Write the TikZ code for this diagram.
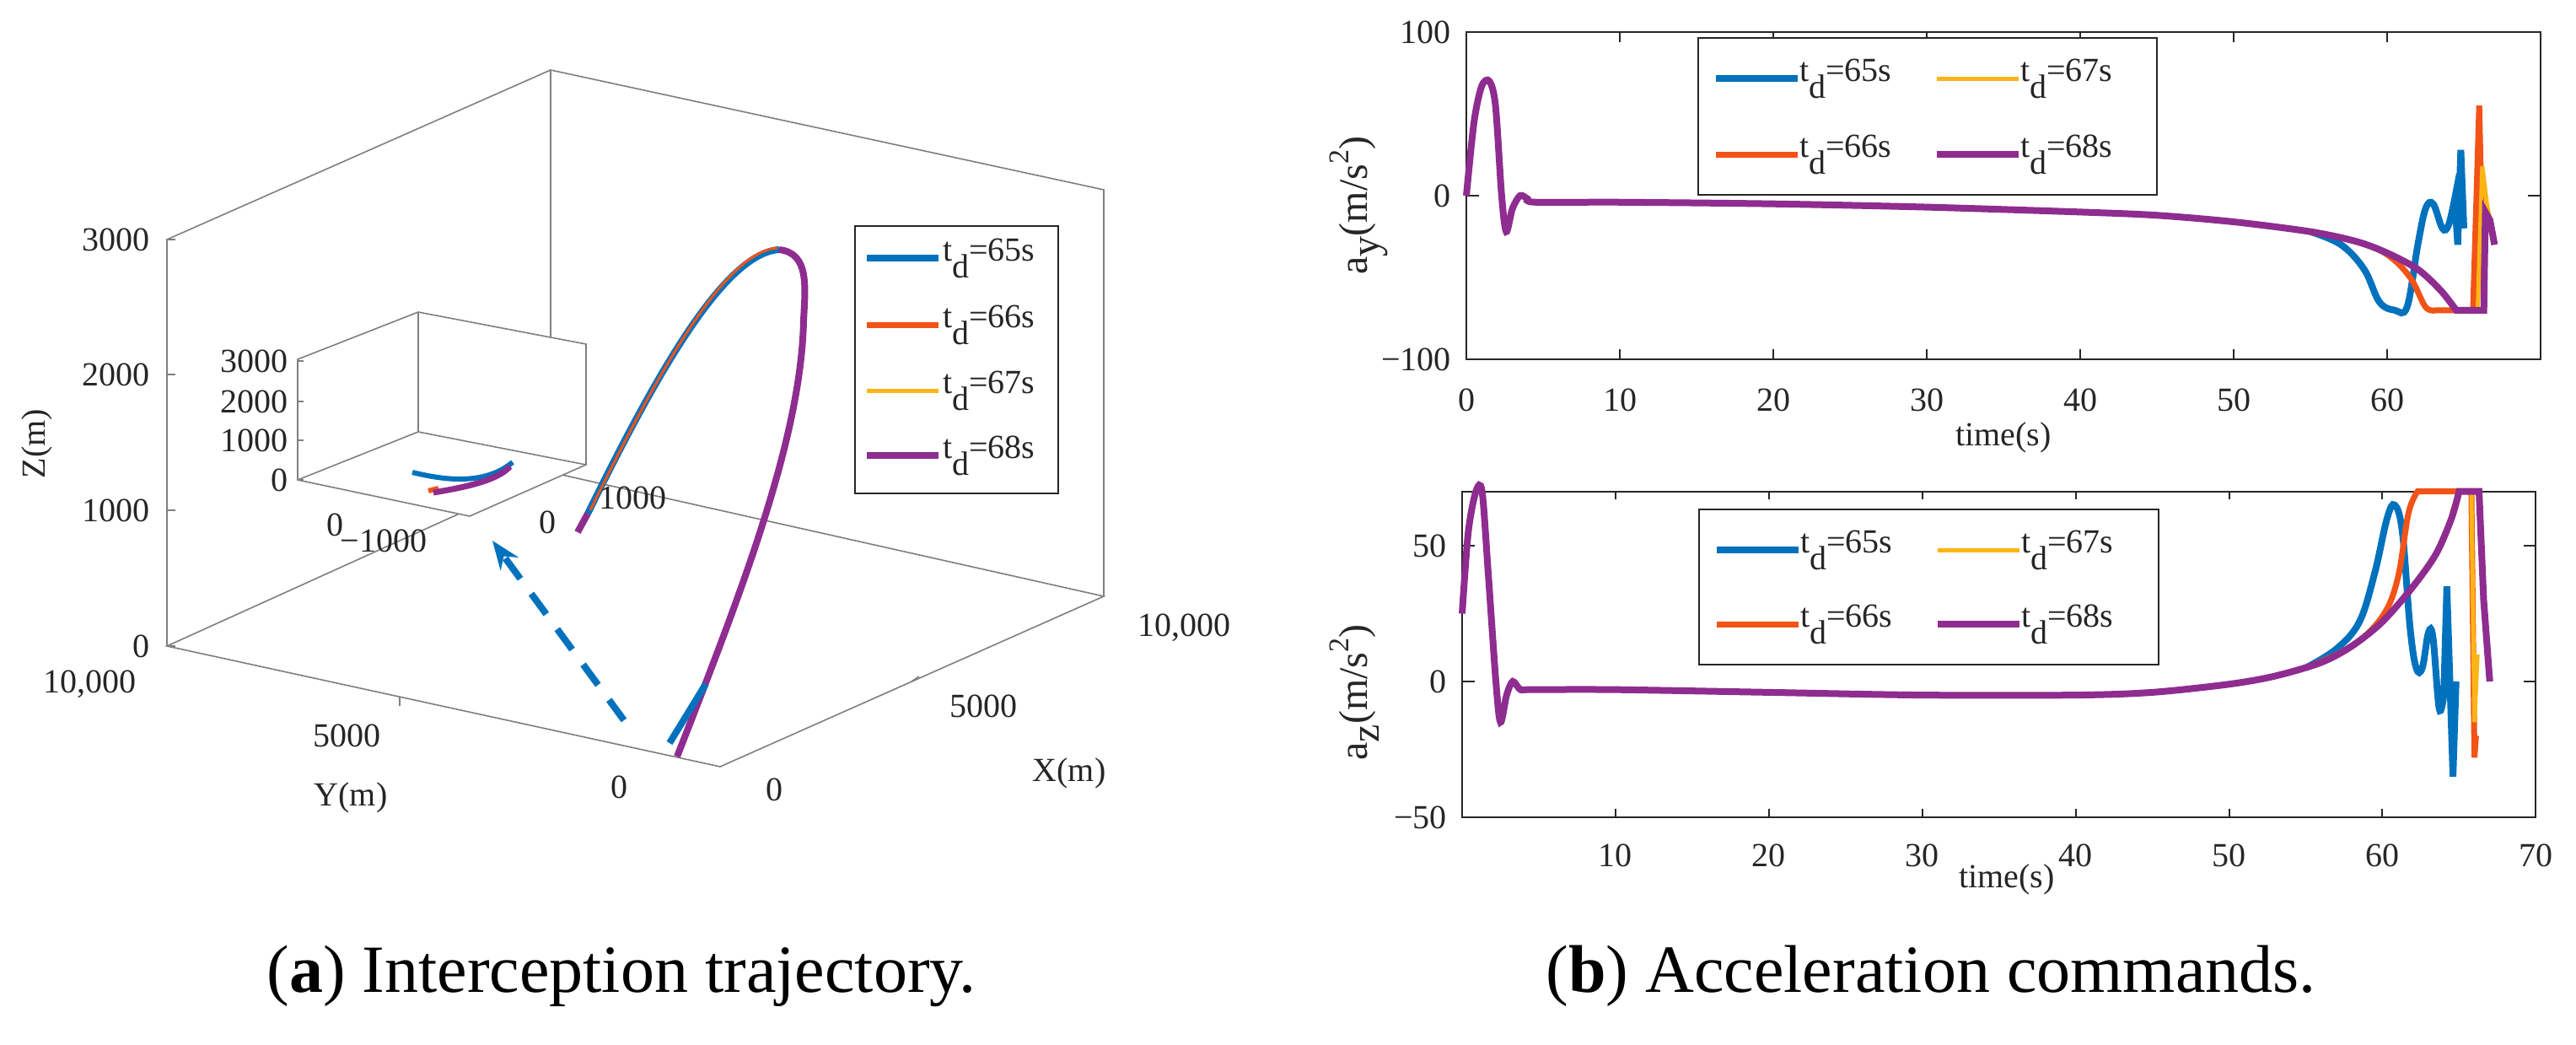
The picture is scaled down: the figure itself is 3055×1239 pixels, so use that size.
\documentclass[tikz,border=0pt]{standalone}
\usepackage{fontspec}
\setmainfont{Liberation Serif}
\usetikzlibrary{arrows.meta}
\definecolor{mb}{HTML}{0072BD}
\definecolor{mo}{HTML}{F25317}
\definecolor{my}{HTML}{FDB515}
\definecolor{mp}{HTML}{8E2C90}
\definecolor{ax}{HTML}{262626}
\definecolor{gr}{HTML}{7F7F7F}
\newcommand{\td}[1]{t\raisebox{-0.5em}{d}=#1s}
\begin{document}
\begin{tikzpicture}[x=1pt,y=-1pt,
  lab/.style={font=\fontsize{40}{44}\selectfont, text=ax, inner sep=0pt},
  ylab/.style={font=\fontsize{48}{52}\selectfont, text=ax, inner sep=0pt, rotate=90},
  captxt/.style={font=\fontsize{80}{88}\selectfont, inner sep=0pt},
  box/.style={draw=gr, line width=1.6pt},
  frm/.style={draw=ax, line width=2.2pt},
  cb/.style={mb, line width=8pt},
  co/.style={mo, line width=7pt},
  cy/.style={my, line width=5pt},
  cp/.style={mp, line width=8pt},
  tk/.style={ax, line width=2pt}]
\useasboundingbox[fill=white] (0,0) rectangle (3055,1239);
% ===== 3D plot =====
\coordinate (A) at (198,766); \coordinate (B) at (854,909);
\coordinate (C) at (1309,707); \coordinate (D) at (653,560);
\coordinate (At) at (198,284); \coordinate (Dt) at (653,83); \coordinate (Ct) at (1309,225);
\draw[box] (A)--(B)--(C)--(D)--cycle;
\draw[box] (A)--(At)--(Dt)--(Ct)--(C);
\draw[box] (D)--(Dt);
\foreach \z/\t in {766/0,605/1000,444/2000,284/3000}{
  \draw[box] (198,\z)--(208,\z);
  \node[lab,anchor=east] at (178,\z) {\t};}
\draw[box] (474,826)--(474,837);
\draw[box] (1081,808)--(1090,802);
\node[lab] at (106,811) {10,000};
\node[lab] at (411,872) {5000};
\node[lab] at (734,933) {0};
\node[lab] at (918,936) {0};
\node[lab] at (1166,837) {5000};
\node[lab] at (1404,744) {10,000};
\node[lab,rotate=90] at (44,526) {Z(m)};
\node[lab] at (416,946) {Y(m)};
\node[lab] at (1268,917) {X(m)};
% trajectory
\draw[cb] (697,609) .. controls (780,440) and (860,300) .. (924,296);
\draw[cp] (685,631) -- (697,609);
\draw[co,line width=3pt] (700,605) .. controls (782,438) and (860,298) .. (922,294);
\draw[cp] (924,296) .. controls (960,300) and (955,340) .. (953,380)
  .. controls (950,520) and (880,700) .. (803,897);
\draw[cb] (794,881) -- (837,811);
\draw[cb, dash pattern=on 30pt off 22pt, -{Stealth[length=34pt,width=26pt]}] (740,854) -- (584,641);
% inset
\coordinate (a) at (353,569); \coordinate (b) at (557,612);
\coordinate (c) at (695,551); \coordinate (d) at (496,512);
\draw[box, fill=white] (a)--(353,426)--(496,370)--(695,408)--(c)--(b)--cycle;
\draw[box] (a)--(d)--(c); \draw[box] (d)--(496,370);
\foreach \z/\t in {569/0,522/1000,476/2000,428/3000}{
  \draw[box] (353,\z)--(360,\z);
  \node[lab,anchor=east] at (342,\z) {\t};}
\node[lab] at (397,622) {0};
\node[lab] at (455,641) {−1000};
\node[lab] at (649,619) {0};
\node[lab] at (750,590) {1000};
\draw[cb,line width=6pt] (489,560) .. controls (530,570) and (575,575) .. (608,548);
\draw[co,line width=6pt] (508,582) -- (520,579);
\draw[cp,line width=7pt] (514,584) .. controls (550,578) and (590,570) .. (605,553);
% legend
\draw[draw=ax,line width=1.6pt,fill=white] (1014,268) rectangle (1255,585);
\foreach \y/\s/\t in {306/cb/65,385/co/66,463/cy/67,540/cp/68}{
  \draw[\s] (1028,\y)--(1113,\y);
  \node[lab,anchor=west] at (1118,\y) {\td{\t}};}
% ===== a_y plot =====
\begin{scope}[shift={(1739,232)}, x=18.2pt, y=1.94pt]
  \draw[frm] (0,-100) rectangle (70,100);
  \foreach \t in {0,10,...,60}{
    \draw[tk] (\t,-100)--(\t,-94); \draw[tk] (\t,100)--(\t,94);
    \node[lab] at (\t,-125) {\t};}
  \foreach \v/\l in {100/100,0/0,-100/−100}{
    \draw[tk] (0,\v)--(0.8,\v); \draw[tk] (70,\v)--(69.2,\v);
    \node[lab,anchor=east] at (-1,\v) {\l};}
  \node[lab] at (35,-148) {time(s)};
  \node[ylab] at (-7,-6) {a\raisebox{-0.3em}{y}(m/s\raisebox{0.45em}{\fontsize{34}{36}\selectfont 2})};
  \draw[cb] plot[smooth,tension=0.6] coordinates {(55,-22) (57,-30) (58.5,-45) (59.5,-65) (60.5,-70) (61.3,-68) (62,-30) (62.5,-8) (63,-5) (63.6,-20) (64,-18) (64.4,-2)} -- (64.6,-30) -- (64.8,28) -- (65,-20);
  \draw[co] plot[smooth,tension=0.6] coordinates {(55,-22) (58,-28) (60,-36) (61.5,-50) (62.5,-68) (63.2,-70)} -- (65.6,-70) -- (66,55) -- (66.3,-70);
  \draw[cy] (64.5,-70) -- (65.9,-70) -- (66.2,18) -- (66.5,-5) -- (66.7,-15);
  \draw[cp] plot[smooth,tension=0.5] coordinates {(0,0) (0.5,45) (1,67) (1.5,70) (1.9,55) (2.3,0) (2.6,-22) (3,-8) (3.5,0) (4,-2) (4.5,-4) (10,-4) (20,-5) (30,-7) (40,-10) (45,-12) (50,-16) (55,-22) (58,-28) (60,-35) (62,-45) (63.5,-58) (64.5,-70)} -- (66.3,-70) -- (66.4,-10) -- (66.7,-15) -- (67,-30);
\end{scope}
\draw[frm,fill=white] (2014,45) rectangle (2558,231);
\foreach \x/\y/\s/\t in {2035/93/cb/65,2297/93/cy/67,2035/183/co/66,2297/183/cp/68}{
  \draw[\s] (\x,\y)--++(97,0);
  \node[lab,anchor=west] at (\x+99,\y) {\td{\t}};}
% ===== a_z plot =====
\begin{scope}[shift={(1734,808)}, x=18.19pt, y=3.22pt]
  \draw[frm] (0,-50) rectangle (70,70);
  \foreach \t in {10,20,...,70}{
    \draw[tk] (\t,-50)--(\t,-47); \draw[tk] (\t,70)--(\t,67);
    \node[lab] at (\t,-64) {\t};}
  \foreach \v/\l in {50/50,0/0,-50/−50}{
    \draw[tk] (0,\v)--(0.8,\v); \draw[tk] (70,\v)--(69.2,\v);
    \node[lab,anchor=east] at (-1,\v) {\l};}
  \node[lab] at (35.5,-73) {time(s)};
  \node[ylab] at (-7,-4) {a\raisebox{-0.3em}{z}(m/s\raisebox{0.45em}{\fontsize{34}{36}\selectfont 2})};
  \draw[cb] plot[smooth,tension=0.6] coordinates {(55,5) (57,12) (58.5,22) (59.5,40) (60.3,60) (60.8,65) (61.3,55) (61.8,20) (62.2,5) (62.6,5) (63,18) (63.3,16) (63.7,-10) (64,-5)} -- (64.2,35) -- (64.6,-35) -- (64.8,0);
  \draw[co] plot[smooth,tension=0.6] coordinates {(55,5) (58,13) (60,24) (61,38) (61.7,62) (62.3,70)} -- (65.8,70) -- (66,-28) -- (66.1,-20);
  \draw[cy] (64.5,62) -- (65,70) -- (65.8,70) -- (66,-15) -- (66.2,10);
  \draw[cp] plot[smooth,tension=0.5] coordinates {(0,25) (0.4,55) (0.9,70) (1.3,70) (1.7,40) (2.2,0) (2.5,-15) (2.9,-5) (3.3,0) (3.8,-3) (4.5,-3) (10,-3) (20,-4) (30,-5) (40,-5) (45,-4) (50,-1) (53,2) (56,7) (58,13) (60,22) (62,35) (63.5,47) (64.5,60) (65,70)} -- (66.3,70) -- (66.6,30) -- (67,0);
\end{scope}
\draw[frm,fill=white] (2015,604) rectangle (2560,788);
\foreach \x/\y/\s/\t in {2036/652/cb/65,2298/652/cy/67,2036/740/co/66,2298/740/cp/68}{
  \draw[\s] (\x,\y)--++(97,0);
  \node[lab,anchor=west] at (\x+99,\y) {\td{\t}};}
% captions
\node[captxt] at (737,1157) {(\textbf{a}) Interception trajectory.};
\node[captxt] at (2290,1157) {(\textbf{b}) Acceleration commands.};
\end{tikzpicture}
\end{document}
